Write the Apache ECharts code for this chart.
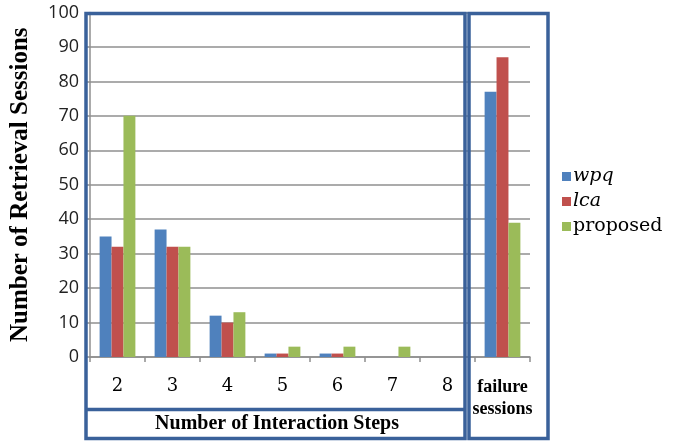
<!DOCTYPE html>
<html>
<head>
<meta charset="utf-8">
<script src="https://cdn.jsdelivr.net/npm/echarts@6/dist/echarts.min.js"></script>
<style>
  html, body { margin: 0; padding: 0; background: #fff; }
  #chart { width: 680px; height: 442px; }
</style>
</head>
<body>
<div id="chart"></div>
<script>
var categories = ['2', '3', '4', '5', '6', '7', '8', 'failure sessions'];
var wpq      = [35, 37, 12, 1, 1, 0, 0, 77];
var lca      = [32, 32, 10, 1, 1, 0, 0, 87];
var proposed = [70, 32, 13, 3, 3, 3, 0, 39];
var yTicks = { min: 0, max: 100, interval: 10 };

var boxColor = '#3A619A';
var gridColor = '#8f8f8f';
var serif = 'Liberation Serif';
var plainSerif = 'DejaVu Serif';

var dom = document.getElementById('chart');
var myChart = echarts.init(dom);

var option = {
    animation: false,
    color: ['#4F81BD', '#C0504D', '#9BBB59'],
    grid: {
        left: 85,
        right: 150,
        top: 12.5,
        bottom: 85
    },
    legend: {
        orient: 'vertical',
        left: 557,
        top: 162,
        itemWidth: 9,
        itemHeight: 9,
        itemGap: 6,
        icon: 'rect',
        data: [
            { name: 'wpq', textStyle: { fontStyle: 'italic' } },
            { name: 'lca', textStyle: { fontStyle: 'italic' } },
            { name: 'proposed' }
        ],
        textStyle: {
            fontFamily: plainSerif,
            fontSize: 19,
            color: '#000',
            padding: [0, 0, 0, -3]
        }
    },
    xAxis: {
        type: 'category',
        data: categories,
        axisLine: { lineStyle: { color: gridColor, width: 1.5 } },
        axisTick: { show: true, length: 5, lineStyle: { color: gridColor, width: 1.5 } },
        axisLabel: {
            interval: 0,
            margin: 19,
            color: '#000',
            formatter: function (v) {
                if (v === 'failure sessions') return '{f|failure}\n{f|sessions}';
                return '{n|' + v + '}';
            },
            rich: {
                n: { fontFamily: plainSerif, fontSize: 18, lineHeight: 20, color: '#000' },
                f: { fontFamily: serif, fontWeight: 'bold', fontSize: 18, lineHeight: 22, color: '#000' }
            }
        }
    },
    yAxis: {
        type: 'value',
        min: yTicks.min,
        max: yTicks.max,
        interval: yTicks.interval,
        name: 'Number of Retrieval Sessions',
        nameLocation: 'middle',
        nameGap: 57,
        nameTextStyle: {
            fontFamily: serif,
            fontWeight: 'bold',
            fontSize: 25,
            color: '#000'
        },
        axisLine: { show: true, lineStyle: { color: gridColor, width: 1.5 } },
        axisTick: { show: true, length: 5, lineStyle: { color: gridColor, width: 1.5 } },
        splitLine: { lineStyle: { color: gridColor, width: 1.5 } },
        axisLabel: {
            margin: 11,
            fontFamily: 'Open Sans',
            fontSize: 18,
            color: '#222'
        }
    },
    series: [
        { name: 'wpq', type: 'bar', data: wpq, barGap: 0, barCategoryGap: '35%' },
        { name: 'lca', type: 'bar', data: lca, barGap: 0, barCategoryGap: '35%' },
        { name: 'proposed', type: 'bar', data: proposed, barGap: 0, barCategoryGap: '35%' }
    ],
    graphic: [
        {
            type: 'rect', z: 100,
            shape: { x: 86, y: 13.5, width: 379, height: 425 },
            style: { fill: 'none', stroke: boxColor, lineWidth: 3.5 }
        },
        {
            type: 'line', z: 100,
            shape: { x1: 86, y1: 409.5, x2: 465, y2: 409.5 },
            style: { stroke: boxColor, lineWidth: 3.5 }
        },
        {
            type: 'rect', z: 100,
            shape: { x: 469, y: 13.5, width: 79, height: 425 },
            style: { fill: 'none', stroke: boxColor, lineWidth: 3.5 }
        },
        {
            type: 'text', z: 100,
            x: 277, y: 424,
            style: {
                text: 'Number of Interaction Steps',
                font: 'bold 20px "Liberation Serif"',
                fill: '#000',
                align: 'center',
                verticalAlign: 'middle'
            }
        }
    ]
};

if (option && typeof option === 'object') {
    myChart.setOption(option, true);
}
</script>
</body>
</html>
